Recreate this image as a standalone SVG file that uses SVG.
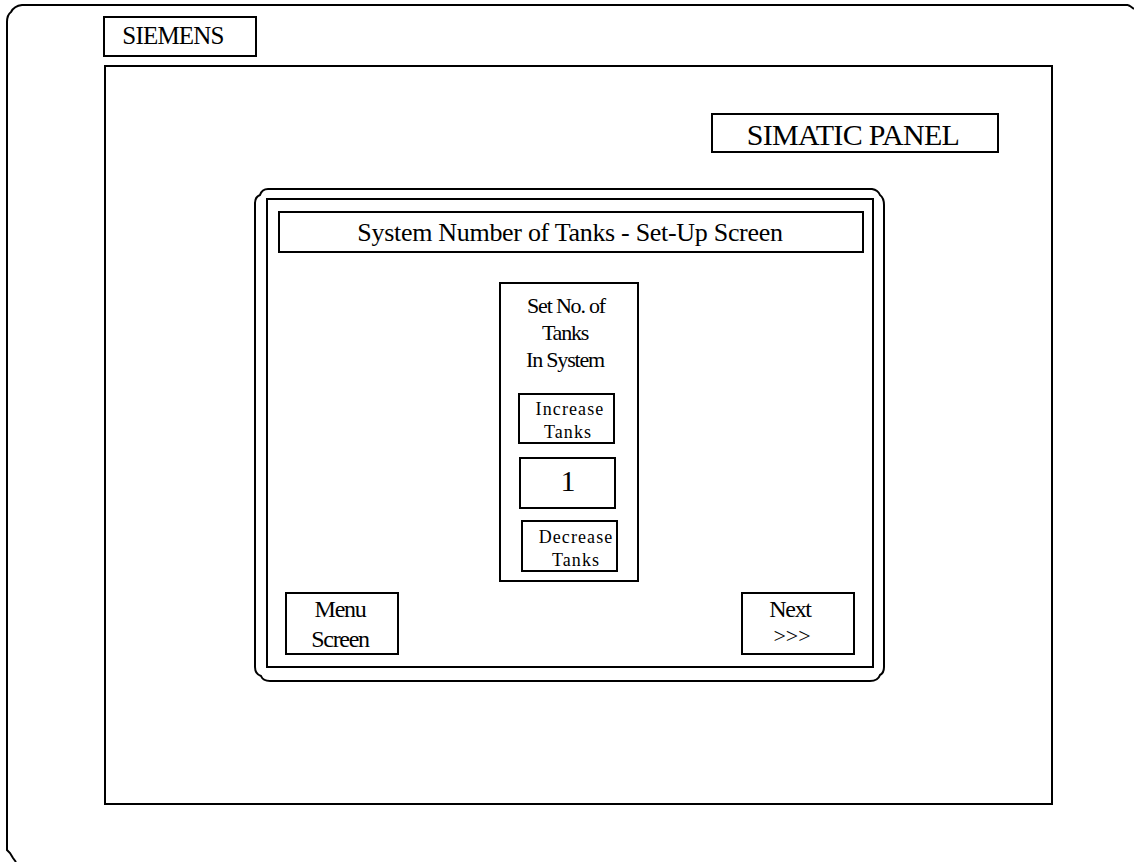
<svg xmlns="http://www.w3.org/2000/svg" width="1134" height="862" viewBox="0 0 1134 862">
<style>
.ln{fill:none;stroke:#000;stroke-width:2}
.bx{fill:#fff;stroke:#000;stroke-width:2}
text{font-family:"Liberation Serif","Times New Roman",serif;fill:#000;text-anchor:middle}
.cond{font-size:22px;letter-spacing:-1.2px}
.btn{font-size:24px;letter-spacing:-1.3px}
.small{font-size:18px;letter-spacing:1.1px}
</style>
<rect width="1134" height="862" fill="#fff"/>
<g id="housing">
<path class="ln" d="M1128,5 L1130,6 L1134,9 M1128,5 L22,5 Q14,6 11,12 Q7,15 7,22 L7,850 L10,853 L13,858 L16,862"/>
</g>
<g id="siemens">
<rect class="bx" x="104" y="17" width="152" height="39"/>
<text x="173" y="44" font-size="25" letter-spacing="-0.8">SIEMENS</text>
</g>
<g id="screen">
<rect class="bx" x="105" y="66" width="947" height="738"/>
</g>
<g id="simatic">
<rect class="bx" x="712" y="114" width="286" height="38"/>
<text x="853" y="145" font-size="30" letter-spacing="-0.7">SIMATIC PANEL</text>
</g>
<g id="display">
<path class="ln" d="M268,189 L872,189 Q878,190 880,195 Q884,198 884,205 L884,667 Q884,673 880,675 Q878,681 870,681 L270,681 Q263,681 261,676 Q255,674 255,667 L255,203 Q255,197 260,195 Q262,189 268,189 Z"/>
<rect class="ln" x="267" y="199" width="606" height="468"/>
</g>
<g id="title">
<rect class="bx" x="279" y="212" width="584" height="40"/>
<text x="570" y="241" font-size="26" letter-spacing="-0.3">System Number of Tanks - Set-Up Screen</text>
</g>
<g id="tank-panel">
<rect class="bx" x="500" y="283" width="138" height="298"/>
<text class="cond" x="566" y="313">Set No. of</text>
<text class="cond" x="565" y="340">Tanks</text>
<text class="cond" x="565" y="367">In System</text>
</g>
<g id="increase">
<rect class="bx" x="519" y="394" width="95" height="49"/>
<text class="small" x="570" y="415">Increase</text>
<text class="small" x="568" y="438">Tanks</text>
</g>
<g id="value">
<rect class="bx" x="520" y="458" width="95" height="50"/>
<text x="568" y="491" font-size="30">1</text>
</g>
<g id="decrease">
<rect class="bx" x="522" y="521" width="95" height="50"/>
<text class="small" x="576" y="543">Decrease</text>
<text class="small" x="576" y="566">Tanks</text>
</g>
<g id="menu">
<rect class="bx" x="286" y="593" width="112" height="61"/>
<text class="btn" x="340" y="617">Menu</text>
<text class="btn" x="340" y="647">Screen</text>
</g>
<g id="next">
<rect class="bx" x="742" y="593" width="112" height="61"/>
<text class="btn" x="790" y="617">Next</text>
<text x="792" y="643" font-size="22">&gt;&gt;&gt;</text>
</g>
<g id="connectors"></g>
</svg>
